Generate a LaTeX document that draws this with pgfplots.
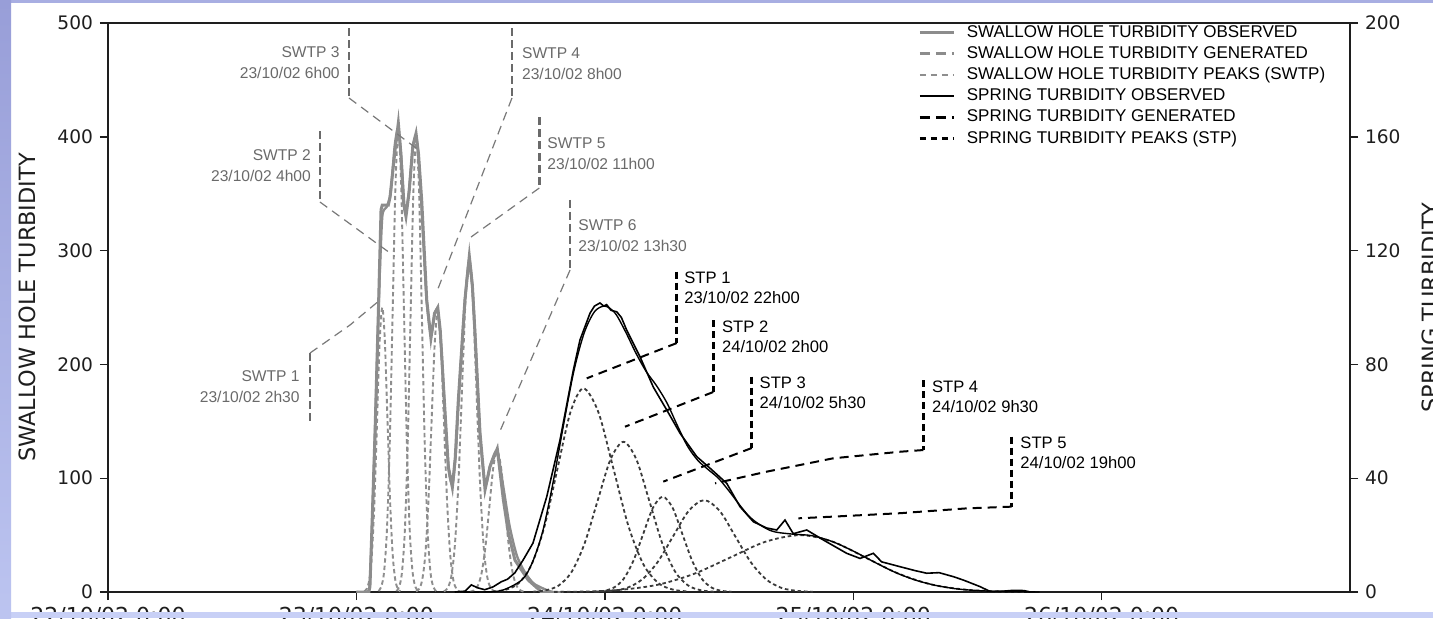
\documentclass[border=0pt]{standalone}
\usepackage{pgfplots}
\pgfplotsset{compat=1.18}
\usepackage{fontspec}
\setmainfont{Liberation Sans}
\newfontfamily\dejavu{DejaVu Sans}

\definecolor{swobs}{HTML}{8C8C8C}
\definecolor{swpk}{HTML}{8E8E8E}
\definecolor{swtxt}{HTML}{6A6A6A}
\definecolor{stpk}{HTML}{3A3A3A}
\definecolor{axcol}{HTML}{1E1E1E}
\definecolor{frameA}{RGB}{152,158,216}
\definecolor{frameB}{RGB}{188,196,240}
\definecolor{frameTop}{RGB}{168,174,226}
\definecolor{frameBot}{RGB}{200,208,246}

\pgfplotsset{
  commonaxis/.style={
    at={(54pt,13pt)}, anchor=south west, scale only axis,
    width=621pt, height=284.5pt,
    xmin=0, xmax=120,
    axis line style={axcol, line width=0.7pt},
    every tick/.style={axcol, line width=0.7pt},
    major tick length=4pt,
    tick align=outside,
    /pgf/number format/assume math mode=true,
    yticklabel style={font=\dejavu\fontsize{9.3}{11}\selectfont, text=axcol},
    xticklabel style={font=\dejavu\fontsize{11}{13}\selectfont, text=axcol},
  },
}
\tikzset{
  swpeak/.style={swpk, line width=0.95pt, dash pattern=on 2.2pt off 1.5pt, smooth},
  stpeak/.style={stpk, line width=0.9pt, dash pattern=on 1.8pt off 1.4pt, smooth},
  swbracket/.style={swtxt, line width=1.4pt, dash pattern=on 4pt off 2pt},
  swlead/.style={swtxt!90, line width=0.6pt, dash pattern=on 4.5pt off 3pt},
  stbracket/.style={black, line width=1.5pt, dash pattern=on 3.5pt off 2pt},
  stlead/.style={black, line width=1pt, dash pattern=on 4.5pt off 3pt},
  swlabel/.style={inner sep=0pt, text=swtxt, font=\fontsize{7.8}{10.5}\selectfont},
  stlabel/.style={anchor=north west, inner sep=0pt, align=left, font=\fontsize{8.3}{10}\selectfont},
}

\begin{document}
\begin{tikzpicture}[x=1pt,y=1pt]
\fill[white] (0pt,0pt) rectangle (716.5pt,309pt);

% ---------- swallow hole (left scale) ----------
\begin{axis}[commonaxis,
  ymin=0, ymax=500, ytick={0,100,...,500},
  xtick={0,24,48,72,96},
  xticklabels={22/10/02 0:00,23/10/02 0:00,24/10/02 0:00,25/10/02 0:00,26/10/02 0:00},
  xtick pos=bottom, ytick pos=left,
  ylabel={SWALLOW HOLE TURBIDITY},
  every axis y label/.style={at={(axis description cs:-0.0652,0.5)}, rotate=90,
    anchor=center, inner sep=0pt, font=\dejavu\fontsize{11.2}{13}\selectfont, text=axcol},
]
% individual peaks (SWTP 1-6)
\addplot[swpeak] coordinates {(24.75,0.55) (25.0,2.8) (25.25,11.0) (25.5,33.8) (25.75,81.2) (26.0,151.6) (26.25,220.6) (26.5,250) (26.75,220.6) (27.0,151.6) (27.25,81.2) (27.5,33.8) (27.75,11.0) (28.0,2.8) (28.25,0.55)};
\addplot[swpeak] coordinates {(26.125,0.9) (26.4,4.5) (26.675,17.8) (26.95,54.8) (27.225,131.5) (27.5,245.6) (27.775,357.4) (28.05,405) (28.325,357.4) (28.6,245.6) (28.875,131.5) (29.15,54.8) (29.425,17.8) (29.7,4.5) (29.975,0.9)};
\addplot[swpeak] coordinates {(27.855,0.9) (28.13,4.4) (28.405,17.5) (28.68,53.9) (28.955,129.2) (29.23,241.4) (29.505,351.2) (29.78,398) (30.055,351.2) (30.33,241.4) (30.605,129.2) (30.88,53.9) (31.155,17.5) (31.43,4.4) (31.705,0.9)};
\addplot[swpeak] coordinates {(29.76,0.54) (30.06,2.7) (30.36,10.8) (30.66,33.3) (30.96,79.9) (31.26,149.2) (31.56,217.1) (31.86,246) (32.16,217.1) (32.46,149.2) (32.76,79.9) (33.06,33.3) (33.36,10.8) (33.66,2.7) (33.96,0.54)};
\addplot[swpeak] coordinates {(32.45,0.64) (32.8,3.2) (33.15,12.8) (33.5,39.5) (33.85,94.8) (34.2,177.1) (34.55,257.7) (34.9,292) (35.25,257.7) (35.6,177.1) (35.95,94.8) (36.3,39.5) (36.65,12.8) (37.0,3.2) (37.35,0.64)};
\addplot[swpeak] coordinates {(34.975,0.27) (35.35,1.4) (35.725,5.4) (36.1,16.8) (36.475,40.3) (36.85,75.2) (37.225,109.4) (37.6,124) (37.975,109.4) (38.35,75.2) (38.725,40.3) (39.1,16.8) (39.475,5.4) (39.85,1.4) (40.225,0.27)};
% generated
\addplot[swobs, line width=1.2pt, smooth, tension=0.4] coordinates {(24,0) (25.0,0) (25.3,8) (25.6,80) (25.9,170) (26.2,265) (26.5,330) (26.9,338) (27.3,350) (27.7,392) (28.05,408) (28.35,380) (28.7,334) (29.05,350) (29.45,390) (29.78,400) (30.1,370) (30.4,320) (30.8,255) (31.2,226) (31.55,243) (31.85,248) (32.2,215) (32.6,150) (32.95,105) (33.3,95) (33.6,122) (33.9,172) (34.45,252) (34.9,292) (35.25,262) (35.55,212) (35.95,138) (36.45,94) (36.95,112) (37.6,124) (38.2,92) (38.8,58) (39.5,32) (40.3,17) (41.2,7) (42.9,0) (44,0)};
% observed
\addplot[swobs, line width=1.5pt] coordinates {(24,0) (25.2,0) (25.31,5) (25.55,70) (25.8,140) (26.12,245) (26.38,336) (26.5,340) (27.08,340) (27.25,347) (27.73,388) (28.05,412) (28.3,385) (28.55,342) (28.79,330) (29.1,352) (29.45,392) (29.76,403) (30.0,385) (30.31,344) (30.79,257) (31.2,223) (31.55,245) (31.86,250) (32.1,230) (32.4,183) (32.88,110) (33.27,92) (33.55,118) (33.85,169) (34.49,257) (34.91,295) (35.2,270) (35.46,227) (35.94,140) (36.43,90) (36.9,110) (37.61,126) (38.2,81) (38.68,52) (39.32,28) (40.6,10.5) (41.9,0) (43,0)};

% peak labels
\draw[swbracket] (axis cs:19.52,210.0) -- (axis cs:19.52,149.4);
\draw[swlead] (axis cs:19.52,210.0) -- (axis cs:23.38,234.6) -- (axis cs:26.28,256.6);
\node[swlabel, anchor=north east, align=right] at (axis cs:18.55,194.5) {SWTP 1\\23/10/02 2h30};

\draw[swbracket] (axis cs:20.48,405.1) -- (axis cs:20.48,342.7);
\draw[swlead] (axis cs:20.48,342.7) -- (axis cs:27.25,297.9);
\node[swlabel, anchor=north east, align=right] at (axis cs:19.64,389.3) {SWTP 2\\23/10/02 4h00};

\draw[swbracket] (axis cs:23.29,495.6) -- (axis cs:23.29,434.1);
\draw[swlead] (axis cs:23.29,434.1) -- (axis cs:30.15,387.5);
\node[swlabel, anchor=north east, align=right] at (axis cs:22.42,479.8) {SWTP 3\\23/10/02 6h00};

\draw[swbracket] (axis cs:39.03,495.6) -- (axis cs:39.03,434.1);
\draw[swlead] (axis cs:39.03,434.1) -- (axis cs:31.76,263.6);
\node[swlabel, anchor=north west, align=left] at (axis cs:39.97,478.9) {SWTP 4\\23/10/02 8h00};

\draw[swbracket] (axis cs:41.67,417.4) -- (axis cs:41.67,355.0);
\draw[swlead] (axis cs:41.67,355.0) -- (axis cs:34.81,310.2);
\node[swlabel, anchor=north west, align=left] at (axis cs:42.42,399.8) {SWTP 5\\23/10/02 11h00};

\draw[swbracket] (axis cs:44.64,344.5) -- (axis cs:44.64,282.9);
\draw[swlead] (axis cs:44.64,282.9) -- (axis cs:37.71,138.0);
\node[swlabel, anchor=north west, align=left] at (axis cs:45.41,327.2) {SWTP 6\\23/10/02 13h30};
\end{axis}

% ---------- spring (right scale) ----------
\begin{axis}[commonaxis,
  ymin=0, ymax=200, ytick={0,40,...,200},
  axis x line=none, axis y line*=right,
  ylabel={SPRING TURBIDITY},
  every axis y label/.style={at={(axis description cs:1.0644,0.5)}, rotate=90,
    anchor=center, inner sep=0pt, font=\dejavu\fontsize{11.2}{13}\selectfont, text=axcol},
  legend image code/.code={\draw[#1] (0pt,0pt) -- (17pt,0pt);},
  legend cell align=left,
  legend style={at={(axis description cs:0.6523,0.9965)}, anchor=north west,
    draw=none, fill=none, inner sep=0pt, outer sep=0pt, column sep=3pt,
    font=\fontsize{8.5}{9}\selectfont, row sep=2.9pt,
    nodes={inner ysep=0pt, inner xsep=2.75pt, text height=6.1pt, text depth=1.6pt}},
]
\addlegendimage{swobs, line width=1.5pt}
\addlegendentry{SWALLOW HOLE TURBIDITY OBSERVED}
\addlegendimage{swobs, line width=1.5pt, dash pattern=on 5pt off 3pt}
\addlegendentry{SWALLOW HOLE TURBIDITY GENERATED}
\addlegendimage{swpk, line width=1.2pt, dash pattern=on 3pt off 2.5pt}
\addlegendentry{SWALLOW HOLE TURBIDITY PEAKS (SWTP)}
\addlegendimage{black, line width=1pt}
\addlegendentry{SPRING TURBIDITY OBSERVED}
\addlegendimage{black, line width=1.6pt, dash pattern=on 5pt off 3pt}
\addlegendentry{SPRING TURBIDITY GENERATED}
\addlegendimage{black, line width=1.4pt, dash pattern=on 3pt off 2.5pt}
\addlegendentry{SPRING TURBIDITY PEAKS (STP)}

% individual peaks (STP 1-5)
\addplot[stpeak, forget plot] coordinates {(37.18,0.2) (38.43,0.8) (39.68,3.1) (40.93,9.7) (42.18,23.2) (43.43,43.4) (44.68,63.2) (45.93,71.6) (47.38,63.2) (48.83,43.4) (50.28,23.2) (51.73,9.7) (53.18,3.1) (54.63,0.8) (56.08,0.2)};
\addplot[stpeak, forget plot] coordinates {(41.05,0.1) (42.3,0.6) (43.55,2.3) (44.8,7.1) (46.05,17.1) (47.3,32.0) (48.55,46.6) (49.8,52.8) (51.05,46.6) (52.3,32.0) (53.55,17.1) (54.8,7.1) (56.05,2.3) (57.3,0.6) (58.55,0.1)};
\addplot[stpeak, forget plot] coordinates {(46.95,0.1) (47.9,0.4) (48.85,1.5) (49.8,4.5) (50.75,10.9) (51.7,20.3) (52.65,29.6) (53.6,33.5) (54.55,29.6) (55.5,20.3) (56.45,10.9) (57.4,4.5) (58.35,1.5) (59.3,0.4) (60.25,0.1)};
\addplot[stpeak, forget plot] coordinates {(47.1,0.1) (48.6,0.4) (50.1,1.4) (51.6,4.4) (53.1,10.5) (54.6,19.6) (56.1,28.5) (57.6,32.3) (59.1,28.5) (60.6,19.6) (62.1,10.5) (63.6,4.4) (65.1,1.4) (66.6,0.4) (68.1,0.1)};
\addplot[stpeak, forget plot] coordinates {(43.1,0.04) (46.5,0.2) (49.9,0.9) (53.3,2.7) (56.7,6.5) (60.1,12.1) (63.5,17.65) (66.9,20) (70.05,17.65) (73.2,12.1) (76.35,6.5) (79.5,2.7) (82.65,0.9) (85.8,0.2) (88.95,0.04)};
% generated
\addplot[black, line width=0.7pt, smooth, forget plot] coordinates {(34,0) (36,0) (38,0.5) (40,4.3) (41,10.4) (42,21.3) (43,38.5) (44,58.5) (45,77.5) (46,91) (47,98.5) (48,100.5) (49,98) (50,91.5) (51,84) (52,77.5) (53,72.5) (54,66.5) (55,58.6) (56,51.2) (57,46.2) (58,43.0) (59,39.9) (60,35.5) (62,26.4) (64,21.6) (66,20.4) (68,19.8) (70,17.7) (72,14.4) (74,10.6) (76,7.0) (78,4.2) (80,2.3) (82,1.1) (84,0.5) (86,0.2) (88,0.1) (90,0)};
% observed
\addplot[black, line width=0.8pt, forget plot] coordinates {(33.5,0) (34.5,0.3) (35.1,2.5) (35.7,1.5) (36.4,0.8) (37.2,1.8) (38.0,3.6) (38.6,4.5) (39.3,6.7) (40.1,11.2) (41.06,17.2) (42.39,33.5) (43.67,53.4) (44.96,78) (45.6,88.6) (46.57,98) (47.0,100.5) (47.53,101.6) (47.9,100.5) (48.18,101) (48.6,99) (49.15,98.5) (49.6,96.5) (50.12,92) (51.4,82.7) (52.69,72) (53.98,64) (55.27,55.8) (56.88,47.6) (58.17,43.5) (59.78,38.2) (61.06,30) (62.35,24.7) (63.64,22.5) (64.61,21.8) (65.41,25.3) (66.21,20.5) (67.51,21.8) (69.11,18.3) (71.37,13.6) (72.66,11.8) (73.94,13.6) (74.75,10.6) (76.52,8.9) (78,7.5) (79.1,6.6) (80.3,6.8) (81.67,5.4) (82.64,4.2) (84.25,1.9) (85.22,0.2) (86.5,0.3) (87.5,0.6) (88.5,0.5) (89.1,0)};

% peak labels
\draw[stbracket] (axis cs:54.95,112.6) -- (axis cs:54.95,87.5);
\draw[stlead] (axis cs:54.95,87.5) -- (axis cs:46.25,75.1);
\node[stlabel] at (axis cs:55.65,112.6) {STP 1\\23/10/02 22h00};

\draw[stbracket] (axis cs:58.48,95.6) -- (axis cs:58.48,70.3);
\draw[stlead] (axis cs:58.48,70.3) -- (axis cs:49.95,58.1);
\node[stlabel] at (axis cs:59.3,95.6) {STP 2\\24/10/02 2h00};

\draw[stbracket] (axis cs:62.19,75.7) -- (axis cs:62.19,50.6);
\draw[stlead] (axis cs:62.19,50.6) -- (axis cs:53.65,38.8);
\node[stlabel] at (axis cs:62.93,75.7) {STP 3\\24/10/02 5h30};

\draw[stbracket] (axis cs:78.77,74.5) -- (axis cs:78.77,49.9);
\draw[stlead] (axis cs:78.77,49.9) -- (axis cs:76.52,49.3) -- (axis cs:70.08,47.0) -- (axis cs:63.64,42.3) -- (axis cs:58.65,38.2);
\node[stlabel] at (axis cs:79.58,74.5) {STP 4\\24/10/02 9h30};

\draw[stbracket] (axis cs:87.31,54.6) -- (axis cs:87.31,30.0);
\draw[stlead] (axis cs:87.31,30.0) -- (axis cs:82.97,29.4) -- (axis cs:76.52,27.7) -- (axis cs:70.08,26.5) -- (axis cs:66.7,25.9);
\node[stlabel] at (axis cs:88.12,54.6) {STP 5\\24/10/02 19h00};
\end{axis}

% window frame
\fill[frameTop] (0pt,307.35pt) rectangle (716.5pt,309pt);
\fill[frameBot] (0pt,0pt) rectangle (716.5pt,3pt);
\shade[top color=frameA, bottom color=frameB] (0pt,0pt) rectangle (5.5pt,309pt);

\pgfresetboundingbox
\path[use as bounding box] (0pt,0pt) rectangle (716.5pt,309pt);
\end{tikzpicture}
\end{document}
